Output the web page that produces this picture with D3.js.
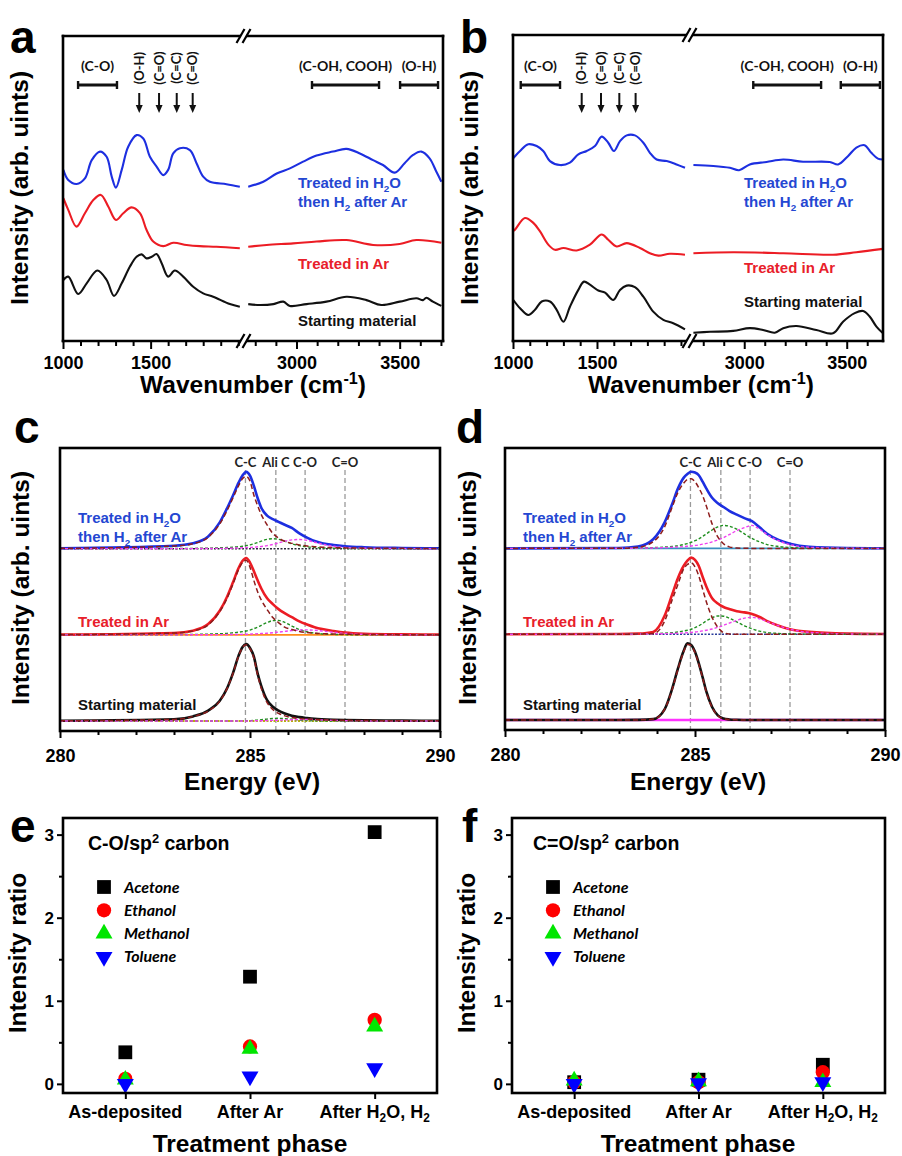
<!DOCTYPE html>
<html>
<head>
<meta charset="utf-8">
<script src="https://cdn.jsdelivr.net/npm/d3@7"></script>
<style>
body { margin: 0; background: #fff; overflow: hidden; }
</style>
</head>
<body>
<div id="chart"></div>
<script>
// ---------- FTIR spectra (panels a, b): [wavenumber, intensity] ----------
const ftirABlue = [[1002,5.61],[1030,5.28],[1078,5.15],[1125,5.33],[1164,5.93],[1211,6.21],[1249,6.04],[1278,5.39],[1302,5.03],[1335,5.61],[1372,6.37],[1420,6.75],[1458,6.64],[1496,6.04],[1534,5.72],[1572,5.44],[1600,5.61],[1629,6.15],[1667,6.32],[1724,6.26],[1762,5.83],[1800,5.39],[1838,5.22],[1933,5.14],[2009,5.06],
  [2766,5.06],[2839,5.22],[2904,5.49],[2968,5.66],[3032,5.88],[3097,6.08],[3177,6.21],[3242,6.30],[3307,6.15],[3371,5.93],[3419,5.77],[3476,5.52],[3524,5.83],[3565,6.10],[3605,6.21],[3645,5.99],[3678,5.55],[3702,5.22]];
const ftirARed = [[1002,4.68],[1030,4.30],[1077,3.75],[1125,4.19],[1173,4.62],[1216,4.79],[1259,4.40],[1302,3.97],[1344,4.19],[1391,4.38],[1439,4.19],[1477,3.64],[1515,3.26],[1572,3.11],[1629,3.22],[1705,3.15],[1781,3.11],[1876,3.09],[2009,3.04],
  [2766,3.09],[2855,3.15],[2984,3.20],[3097,3.26],[3242,3.31],[3371,3.15],[3500,3.18],[3581,3.31],[3702,3.22]];
const ftirABlack = [[1002,2.0],[1030,2.11],[1087,1.54],[1135,1.89],[1196,2.31],[1249,2.0],[1291,1.48],[1335,1.89],[1382,2.44],[1420,2.76],[1449,2.84],[1477,2.71],[1506,2.76],[1534,2.85],[1563,2.55],[1600,2.11],[1638,2.31],[1686,2.11],[1743,1.78],[1800,1.56],[1857,1.45],[1952,1.21],[2009,1.12],
  [2766,1.21],[2823,1.18],[2888,1.21],[2936,1.29],[2968,1.15],[3049,1.21],[3145,1.29],[3242,1.45],[3339,1.34],[3411,1.18],[3500,1.29],[3581,1.40],[3613,1.34],[3629,1.42],[3661,1.29],[3702,1.15]];

const ftirBBlue = [[1003,5.98],[1012,6.04],[1042,6.21],[1091,6.43],[1141,6.37],[1180,6.21],[1220,5.88],[1280,5.75],[1339,5.83],[1389,6.10],[1439,6.21],[1488,6.37],[1528,6.68],[1567,6.48],[1601,6.21],[1637,6.53],[1677,6.72],[1726,6.72],[1776,6.48],[1815,6.15],[1855,5.93],[1915,5.88],[1974,5.77],[2024,5.66],
  [2752,5.75],[2849,5.72],[2930,5.66],[2975,5.58],[3027,5.77],[3109,5.85],[3190,5.93],[3287,5.86],[3417,5.85],[3458,5.77],[3506,6.04],[3547,6.32],[3587,6.40],[3620,6.15],[3652,5.96],[3677,5.93]];
const ftirBRed = [[1002,3.6],[1012,3.64],[1071,4.02],[1121,3.86],[1161,3.58],[1210,3.15],[1250,2.98],[1300,3.04],[1379,2.96],[1458,3.15],[1528,3.48],[1567,3.31],[1617,3.09],[1677,3.20],[1756,3.04],[1815,2.87],[1865,2.79],[1934,2.85],[2024,2.82],
  [2752,2.87],[2946,2.90],[3190,2.87],[3433,2.82],[3547,2.90],[3677,3.01]];
const ftirBBlack = [[1002,1.34],[1042,1.07],[1091,0.85],[1131,1.02],[1171,1.29],[1220,1.29],[1260,1.02],[1300,0.63],[1339,1.12],[1389,1.67],[1423,1.94],[1458,1.84],[1508,1.65],[1548,1.58],[1597,1.34],[1637,1.67],[1677,1.81],[1726,1.76],[1776,1.45],[1835,0.96],[1895,0.69],[1954,0.58],[2024,0.38],
  [2752,0.27],[2833,0.30],[2946,0.33],[3027,0.42],[3092,0.36],[3149,0.27],[3190,0.42],[3255,0.49],[3352,0.36],[3433,0.25],[3482,0.63],[3539,0.91],[3580,0.98],[3612,0.80],[3645,0.47],[3677,0.25]];

const ftirMajorTicks = [1000, 1500, 3000, 3500];
const ftirArrowLabels = ["(O-H)", "(C=O)", "(C=C)", "(C=O)"];
const ftirAArrows = [1435, 1548, 1649, 1740];
const ftirBArrows = [1409, 1524, 1633, 1730];
const ftirABands = [[1086, 1308, "(C-O)"], [3075, 3400, "(C-OH, COOH)"], [3502, 3686, "(O-H)"]];
const ftirBBands = [[1046, 1280, "(C-O)"], [3044, 3375, "(C-OH, COOH)"], [3471, 3662, "(O-H)"]];
const sampleLabels = ["Treated in H_2O", "then H_2 after Ar", "Treated in Ar", "Starting material"];

// ---------- XPS C1s (panels c, d), intensity on a shared energy grid ----------
const xpsEnergy = [280, 283, 283.5, 283.9, 284.2, 284.4, 284.55, 284.7, 284.8, 284.9, 285.0, 285.1, 285.2, 285.3, 285.45, 285.6, 285.75, 285.9, 286.1, 286.3, 286.5, 286.7, 286.9, 287.2, 287.5, 288, 289, 290];
const xpsPeakPos = [284.88, 285.68, 286.45, 287.5];
const xpsPeakNames = ["C-C", "Ali C", "C-O", "C=O"];

const cBlueTotal = [0.005,0.038,0.07,0.16,0.34,0.53,0.69,0.86,0.95,1.0,0.95,0.82,0.66,0.53,0.43,0.385,0.35,0.315,0.27,0.2,0.145,0.1,0.072,0.048,0.033,0.02,0.01,0.006];
const cBlueCC = [0.005,0.036,0.066,0.15,0.32,0.5,0.66,0.82,0.91,0.94,0.88,0.70,0.56,0.44,0.31,0.2,0.14,0.1,0.07,0.05,0.035,0.027,0.02,0.015,0.011,0.008,0.005,0.003];
const cBlueAli = [0,0.003,0.005,0.008,0.012,0.016,0.02,0.026,0.032,0.04,0.05,0.065,0.08,0.1,0.122,0.13,0.122,0.1,0.065,0.04,0.025,0.016,0.01,0.006,0.004,0.002,0,0];
const cBlueCO = [0,0.001,0.002,0.003,0.005,0.006,0.008,0.01,0.012,0.014,0.017,0.02,0.025,0.03,0.04,0.055,0.075,0.095,0.115,0.12,0.11,0.085,0.06,0.032,0.016,0.006,0.002,0];
const cRedTotal = [0.003,0.025,0.055,0.14,0.31,0.5,0.68,0.87,0.96,1.0,0.94,0.83,0.71,0.6,0.475,0.4,0.335,0.285,0.23,0.175,0.135,0.1,0.075,0.05,0.03,0.015,0.006,0.003];
const cRedCC = [0.003,0.024,0.052,0.13,0.3,0.48,0.66,0.85,0.94,0.97,0.88,0.71,0.56,0.45,0.33,0.225,0.16,0.105,0.07,0.045,0.03,0.022,0.016,0.011,0.008,0.005,0.003,0.002];
const cRedAli = [0,0.003,0.006,0.01,0.015,0.02,0.027,0.035,0.042,0.05,0.062,0.08,0.1,0.125,0.16,0.185,0.188,0.165,0.115,0.07,0.04,0.022,0.012,0.006,0.003,0.001,0,0];
const cRedCO = [0,0,0.001,0.002,0.003,0.004,0.005,0.006,0.007,0.008,0.01,0.012,0.014,0.017,0.022,0.028,0.036,0.045,0.056,0.063,0.065,0.06,0.05,0.033,0.02,0.007,0.001,0];
const cBlackTotal = [0.003,0.022,0.06,0.135,0.26,0.43,0.62,0.85,0.96,1.0,0.95,0.84,0.62,0.45,0.27,0.185,0.135,0.1,0.068,0.05,0.038,0.028,0.022,0.016,0.012,0.008,0.005,0.003];
const cBlackCC = [0.003,0.021,0.058,0.13,0.255,0.425,0.615,0.845,0.955,0.99,0.94,0.82,0.6,0.42,0.24,0.15,0.1,0.07,0.045,0.032,0.025,0.02,0.016,0.012,0.009,0.006,0.004,0.002];
const cBlackAli = [0,0,0,0,0,0,0,0.001,0.002,0.003,0.005,0.008,0.012,0.017,0.025,0.033,0.035,0.031,0.022,0.013,0.007,0.003,0.001,0,0,0,0,0];
const cBlackCO = [0,0,0,0,0,0,0,0,0,0,0.001,0.002,0.003,0.004,0.006,0.008,0.011,0.014,0.017,0.019,0.02,0.018,0.014,0.008,0.004,0.001,0,0];

const dBlueTotal = [0,0.005,0.025,0.12,0.34,0.58,0.78,0.92,0.97,1.0,0.99,0.955,0.87,0.78,0.66,0.59,0.54,0.49,0.44,0.395,0.355,0.275,0.19,0.11,0.062,0.022,0.005,0.002];
const dBlueCC = [0,0.002,0.015,0.087,0.28,0.54,0.73,0.85,0.9,0.91,0.87,0.79,0.69,0.55,0.32,0.15,0.06,0.02,0.005,0.001,0,0,0,0,0,0,0,0];
const dBlueAli = [0,0.002,0.005,0.01,0.017,0.025,0.035,0.05,0.063,0.08,0.1,0.125,0.155,0.19,0.24,0.28,0.30,0.29,0.25,0.19,0.13,0.085,0.05,0.025,0.012,0.004,0.001,0];
const dBlueCO = [0,0.001,0.003,0.006,0.01,0.014,0.018,0.023,0.027,0.032,0.038,0.045,0.055,0.065,0.085,0.11,0.14,0.18,0.23,0.27,0.30,0.25,0.18,0.1,0.05,0.015,0.002,0];
const dRedTotal = [0,0.002,0.008,0.03,0.24,0.52,0.73,0.89,0.96,1.0,0.97,0.89,0.75,0.62,0.47,0.4,0.355,0.33,0.3,0.285,0.265,0.225,0.17,0.11,0.065,0.03,0.008,0.003];
const dRedCC = [0,0,0.002,0.008,0.17,0.45,0.65,0.85,0.91,0.93,0.88,0.76,0.59,0.42,0.22,0.09,0.02,0.003,0,0,0,0,0,0,0,0,0,0];
const dRedAli = [0,0.001,0.003,0.007,0.013,0.02,0.03,0.042,0.052,0.065,0.085,0.11,0.14,0.175,0.215,0.238,0.235,0.21,0.16,0.11,0.07,0.04,0.022,0.01,0.004,0.001,0,0];
const dRedCO = [0,0.001,0.002,0.004,0.007,0.01,0.013,0.017,0.02,0.024,0.029,0.035,0.043,0.052,0.068,0.09,0.115,0.145,0.18,0.21,0.22,0.2,0.165,0.11,0.065,0.025,0.004,0];
const dBlackTotal = [0,0,0.002,0.012,0.14,0.41,0.67,0.9,1.0,0.98,0.89,0.74,0.56,0.37,0.17,0.06,0.02,0.008,0.003,0.001,0,0,0,0,0,0,0,0];
const dBlackCC = [0,0,0.002,0.012,0.14,0.4,0.66,0.89,0.985,0.97,0.88,0.73,0.55,0.36,0.165,0.055,0.018,0.006,0.002,0,0,0,0,0,0,0,0,0];

// ---------- Intensity ratios (panels e, f) ----------
const phaseLabels = ["As-deposited", "After Ar", "After H_2O, H_2"];
const solventNames = ["Acetone", "Ethanol", "Methanol", "Toluene"];
const coAcetone = [0.38, 1.29, 3.03];
const coEthanol = [0.06, 0.45, 0.77];
const coMethanol = [0.05, 0.42, 0.69];
const coToluene = [0.0, 0.09, 0.19];
const oxoAcetone = [0.02, 0.05, 0.23];
const oxoEthanol = [0.02, 0.02, 0.14];
const oxoMethanol = [0.04, 0.03, 0.02];
const oxoToluene = [0.0, 0.01, 0.02];
const ratioTicks = [0, 1, 2, 3];
const ratioMinorTicks = [0.5, 1.5, 2.5];

const ARIAL = '"Liberation Sans", Arial, Helvetica, sans-serif';
const HUMAN = 'Lato, "Open Sans", sans-serif';
const C_BLUE = "#1d2fe0", C_RED = "#ec1c24", C_BLACK = "#111";
const T_BLUE = "#2447d2", T_RED = "#e8202a";

const svg = d3.select("#chart").append("svg")
  .attr("width", 902).attr("height", 1156)
  .style("background", "#fff");

function parseRich(str) {
  return str.split(/(_\d|\^\{[^}]*\})/).filter(s => s.length).map(s => {
    if (s[0] === "_") return [s.slice(1), "sub"];
    if (s[0] === "^") return [s.slice(2, -1), "sup"];
    return [s, null];
  });
}

function richText(sel, x, y, str, size, opts = {}) {
  const t = sel.append("text")
    .attr("x", x).attr("y", y)
    .attr("text-anchor", opts.anchor || "start")
    .style("font-family", opts.family || ARIAL)
    .style("font-weight", "bold")
    .style("font-style", opts.italic ? "italic" : "normal")
    .style("font-size", size + "px")
    .attr("fill", opts.color || "#000");
  if (opts.transform) t.attr("transform", opts.transform);
  if (opts.dy) t.attr("dy", opts.dy);
  let shift = 0;
  parseRich(str).forEach(([s, kind]) => {
    const target = kind === "sub" ? size * 0.24 : kind === "sup" ? -size * 0.38 : 0;
    t.append("tspan").attr("dy", target - shift).style("font-size", (kind ? size * 0.66 : size) + "px").text(s);
    shift = target;
  });
  return t;
}

function styleAxis(sel, size) {
  sel.select(".domain").remove();
  sel.selectAll(".tick line").attr("stroke", "#000").attr("stroke-width", 2);
  sel.selectAll(".tick text").attr("fill", "#000")
    .style("font-family", ARIAL).style("font-weight", "bold").style("font-size", size + "px");
}

function panelLetter(letter, x, y) {
  svg.append("text").attr("x", x).attr("y", y).text(letter)
    .style("font-family", ARIAL).style("font-weight", "bold").style("font-size", "46px");
}

function yTitle(str, x, y) {
  richText(svg, 0, 0, str, 24.5, { anchor: "middle", transform: `translate(${x},${y}) rotate(-90)`, dy: "0.35em" });
}

function frameBox(g, p) {
  g.append("rect").attr("x", p.left).attr("y", p.top)
    .attr("width", p.right - p.left).attr("height", p.bottom - p.top)
    .attr("fill", "none").attr("stroke", "#000").attr("stroke-width", 2.6);
}

// ---------- panels a, b ----------
function drawFtir(p) {
  const g = svg.append("g");
  const xl = d3.scaleLinear().domain(p.leftDomain).range([p.left, p.brk - 3.5]);
  const xr = d3.scaleLinear().domain(p.rightDomain).range([p.brk + 3.5, p.right]);
  const y = d3.scaleLinear().domain([0, 10]).range([p.bottom, p.top]);
  const xOf = w => (w < 2400 ? xl(w) : xr(w));
  const line = d3.line().x(d => xOf(d[0])).y(d => y(d[1])).curve(d3.curveCatmullRom.alpha(0.5));

  p.series.forEach(s => {
    [s.data.filter(d => d[0] < 2400), s.data.filter(d => d[0] >= 2400)].forEach(seg => {
      g.append("path").datum(seg).attr("d", line)
        .attr("fill", "none").attr("stroke", s.color).attr("stroke-width", 2.1).attr("stroke-linejoin", "round");
    });
  });

  const ticksL = d3.range(1000, 2001, 100);
  const ticksR = d3.range(2800, 3701, 100).filter(t => t <= p.rightDomain[1]);
  [[xl, ticksL], [xr, ticksR]].forEach(([sc, ticks]) => {
    const minor = g.append("g").attr("transform", `translate(0,${p.bottom})`)
      .call(d3.axisBottom(sc).tickValues(ticks.filter(t => !ftirMajorTicks.includes(t))).tickSize(5).tickFormat(""));
    styleAxis(minor, 18);
    const major = g.append("g").attr("transform", `translate(0,${p.bottom})`)
      .call(d3.axisBottom(sc).tickValues(ticks.filter(t => ftirMajorTicks.includes(t))).tickSize(8).tickPadding(7).tickFormat(d3.format("d")));
    styleAxis(major, 18);
  });

  // broken frame
  const fr = g.append("g").attr("stroke", "#000").attr("stroke-width", 2.6).attr("stroke-linecap", "square");
  fr.append("line").attr("x1", p.left).attr("y1", p.top).attr("x2", p.left).attr("y2", p.bottom);
  fr.append("line").attr("x1", p.right).attr("y1", p.top).attr("x2", p.right).attr("y2", p.bottom);
  [p.top, p.bottom].forEach(yy => {
    fr.append("line").attr("x1", p.left).attr("y1", yy).attr("x2", p.brk - 4).attr("y2", yy);
    fr.append("line").attr("x1", p.brk + 4).attr("y1", yy).attr("x2", p.right).attr("y2", yy);
    [-3, 3].forEach(dx => {
      fr.append("line").attr("stroke-width", 2.2).attr("stroke-linecap", "butt")
        .attr("x1", p.brk + dx - 4).attr("y1", yy + 7).attr("x2", p.brk + dx + 4).attr("y2", yy - 7);
    });
  });

  // band brackets
  p.bands.forEach(([w1, w2, label]) => {
    const x1 = xOf(w1), x2 = xOf(w2);
    g.append("line").attr("x1", x1).attr("x2", x2).attr("y1", 85).attr("y2", 85).attr("stroke", "#111").attr("stroke-width", 3);
    [x1, x2].forEach(xx => g.append("line").attr("x1", xx).attr("x2", xx).attr("y1", 81).attr("y2", 89).attr("stroke", "#111").attr("stroke-width", 2.4));
    g.append("text").attr("x", (x1 + x2) / 2).attr("y", 71).attr("text-anchor", "middle").text(label)
      .style("font-family", HUMAN).style("font-weight", "bold").style("font-size", "14px").attr("fill", "#111");
  });

  // arrows with rotated labels
  p.arrows.forEach((w, i) => {
    const xx = xOf(w);
    g.append("line").attr("x1", xx).attr("x2", xx).attr("y1", 93).attr("y2", 106).attr("stroke", "#111").attr("stroke-width", 2);
    g.append("path").attr("d", `M${xx - 3.5},105 L${xx + 3.5},105 L${xx},113 Z`).attr("fill", "#111");
    g.append("text").attr("transform", `translate(${xx},68) rotate(-90)`).attr("dy", "0.36em")
      .attr("text-anchor", "middle").text(ftirArrowLabels[i])
      .style("font-family", HUMAN).style("font-weight", "bold").style("font-size", "13px").attr("fill", "#111");
  });

  const colors = [T_BLUE, T_BLUE, T_RED, "#111"];
  sampleLabels.forEach((s, i) => richText(g, p.labelX, p.labelY[i], s, 15, { color: colors[i] }));

  richText(svg, p.xTitleX, 393, "Wavenumber (cm^{-1})", 24.5, { anchor: "middle" });
  yTitle("Intensity (arb. uints)", p.yTitleX, 188);
  panelLetter(p.letter, p.letterX, 53);
}

// ---------- panels c, d ----------
function drawXps(p) {
  const g = svg.append("g");
  const x = d3.scaleLinear().domain([280, 290]).range([p.left, p.right]);
  const y = d3.scaleLinear().domain([0, 3.68]).range([p.bottom, p.top]);

  xpsPeakPos.forEach((e, i) => {
    g.append("line").attr("x1", x(e)).attr("x2", x(e)).attr("y1", 470).attr("y2", p.bottom)
      .attr("stroke", "#9a9a9a").attr("stroke-width", 1.3).attr("stroke-dasharray", "5,3");
    g.append("text").attr("x", x(e)).attr("y", 467).attr("text-anchor", "middle").text(xpsPeakNames[i])
      .style("font-family", HUMAN).style("font-weight", "bold").style("font-size", "13px").attr("fill", "#222");
  });

  p.rows.forEach(row => {
    const line = d3.line().x((d, i) => x(xpsEnergy[i])).y(d => y(d + row.offset)).curve(d3.curveMonotoneX);
    g.append("line").attr("x1", x(280)).attr("x2", x(290)).attr("y1", y(row.offset)).attr("y2", y(row.offset))
      .attr("stroke", row.base).attr("stroke-width", row.baseWidth || 1.6).attr("stroke-dasharray", row.baseDash || null);
    g.append("path").datum(row.total).attr("d", line).attr("fill", "none")
      .attr("stroke", row.color).attr("stroke-width", 2.6);
    if (row.ali) g.append("path").datum(row.ali).attr("d", line).attr("fill", "none")
      .attr("stroke", "#1f8f1f").attr("stroke-width", 1.4).attr("stroke-dasharray", "3,2");
    if (row.co) g.append("path").datum(row.co).attr("d", line).attr("fill", "none")
      .attr("stroke", "#f040f0").attr("stroke-width", 1.4).attr("stroke-dasharray", "3,2");
    g.append("path").datum(row.cc).attr("d", line).attr("fill", "none")
      .attr("stroke", "#8e1c1c").attr("stroke-width", 1.5).attr("stroke-dasharray", "5,3");
  });

  const minor = g.append("g").attr("transform", `translate(0,${p.bottom})`)
    .call(d3.axisBottom(x).tickValues(d3.range(281, 290, 1).filter(t => t !== 285)).tickSize(4).tickFormat(""));
  styleAxis(minor, 18);
  const major = g.append("g").attr("transform", `translate(0,${p.bottom})`)
    .call(d3.axisBottom(x).tickValues([280, 285, 290]).tickSize(7).tickPadding(11).tickFormat(d3.format("d")));
  styleAxis(major, 18);
  frameBox(g, p);

  const colors = [T_BLUE, T_BLUE, T_RED, "#111"];
  const ys = [523, 542, 627, 710];
  sampleLabels.forEach((s, i) => richText(g, p.labelX, ys[i], s, 15, { color: colors[i] }));

  richText(svg, p.xTitleX, 790, "Energy (eV)", 24.5, { anchor: "middle" });
  yTitle("Intensity (arb. uints)", p.yTitleX, 588);
  panelLetter(p.letter, p.letterX, 443);
}

// ---------- panels e, f ----------
function drawRatio(p) {
  const g = svg.append("g");
  const x = d3.scalePoint().domain(phaseLabels).range([p.left, p.right]).padding(0.5);
  const y = d3.scaleLinear().domain([-0.11, 3.2]).range([p.bottom, p.top]);

  const yMinor = g.append("g").attr("transform", `translate(${p.left},0)`)
    .call(d3.axisLeft(y).tickValues(ratioMinorTicks).tickSize(4).tickFormat(""));
  styleAxis(yMinor, 17);
  const yMajor = g.append("g").attr("transform", `translate(${p.left},0)`)
    .call(d3.axisLeft(y).tickValues(ratioTicks).tickSize(6).tickPadding(3).tickFormat(d3.format("d")));
  styleAxis(yMajor, 17);
  const xAx = g.append("g").attr("transform", `translate(0,${p.bottom})`)
    .call(d3.axisBottom(x).tickSize(6).tickFormat(""));
  styleAxis(xAx, 17);
  phaseLabels.forEach(ph => richText(g, x(ph), 1118, ph, 18, { anchor: "middle" }));

  const symbols = [d3.symbolSquare, d3.symbolCircle, d3.symbolTriangle, d3.symbolTriangle];
  const sizes = [190, 160, 125, 125];
  const fills = ["#000", "#ff0000", "#00e600", "#0000ff"];
  const rot = [0, 0, 0, 180];

  p.series.forEach((vals, k) => {
    const sym = d3.symbol().type(symbols[k]).size(sizes[k]);
    g.selectAll(null).data(vals).join("path")
      .attr("d", sym)
      .attr("fill", fills[k])
      .attr("transform", (d, i) => `translate(${x(phaseLabels[i])},${y(d)}) rotate(${rot[k]})`);
    const ly = 887 + k * 23.3;
    g.append("path").attr("d", sym).attr("fill", fills[k])
      .attr("transform", `translate(${p.left + 41},${ly}) rotate(${rot[k]})`);
    g.append("text").attr("x", p.left + 61).attr("y", ly + 5.5).text(solventNames[k])
      .style("font-family", HUMAN).style("font-weight", "bold").style("font-style", "italic").style("font-size", "16px");
  });

  frameBox(g, p);
  richText(g, p.left + p.titleDx, 850, p.title, 19.5);
  richText(svg, p.xTitleX, 1152, "Treatment phase", 24.5, { anchor: "middle" });
  yTitle("Intensity ratio", p.yTitleX, 953);
  panelLetter(p.letter, p.letterX, 842);
}

drawFtir({
  letter: "a", letterX: 10, left: 63, right: 443, top: 36, bottom: 341, brk: 243.5,
  leftDomain: [1000, 2010], rightDomain: [2760, 3710],
  series: [{ data: ftirABlue, color: C_BLUE }, { data: ftirARed, color: C_RED }, { data: ftirABlack, color: C_BLACK }],
  arrows: ftirAArrows, bands: ftirABands,
  labelX: 298, labelY: [188, 207, 269, 326], yTitleX: 28, xTitleX: 253
});
drawFtir({
  letter: "b", letterX: 460, left: 513, right: 883, top: 35, bottom: 341, brk: 689.5,
  leftDomain: [1000, 2030], rightDomain: [2750, 3677],
  series: [{ data: ftirBBlue, color: C_BLUE }, { data: ftirBRed, color: C_RED }, { data: ftirBBlack, color: C_BLACK }],
  arrows: ftirBArrows, bands: ftirBBands,
  labelX: 744, labelY: [188, 207, 273, 307], yTitleX: 478, xTitleX: 701
});

drawXps({
  letter: "c", letterX: 14, left: 60, right: 440, top: 448, bottom: 731, labelX: 78, yTitleX: 29, xTitleX: 252,
  rows: [
    { offset: 2.37, color: C_BLUE, base: "#2a2a3a", baseDash: "2,1.5", total: cBlueTotal, cc: cBlueCC, ali: cBlueAli, co: cBlueCO },
    { offset: 1.25, color: C_RED, base: "#ff8c1a", total: cRedTotal, cc: cRedCC, ali: cRedAli, co: cRedCO },
    { offset: 0.13, color: C_BLACK, base: "#b5ad10", baseDash: "2,1.5", baseWidth: 2, total: cBlackTotal, cc: cBlackCC, ali: cBlackAli, co: cBlackCO }
  ]
});
drawXps({
  letter: "d", letterX: 456, left: 505, right: 885, top: 448, bottom: 730, labelX: 523, yTitleX: 476, xTitleX: 698,
  rows: [
    { offset: 2.37, color: C_BLUE, base: "#3a8fc0", total: dBlueTotal, cc: dBlueCC, ali: dBlueAli, co: dBlueCO },
    { offset: 1.25, color: C_RED, base: "#2a3a9a", baseDash: "2,1.5", total: dRedTotal, cc: dRedCC, ali: dRedAli, co: dRedCO },
    { offset: 0.13, color: C_BLACK, base: "#ff33ff", baseWidth: 2.6, total: dBlackTotal, cc: dBlackCC }
  ]
});

drawRatio({
  letter: "e", letterX: 10, left: 63, right: 437, top: 818, bottom: 1093, titleDx: 25,
  title: "C-O/sp^{2} carbon", yTitleX: 26, xTitleX: 250,
  series: [coAcetone, coEthanol, coMethanol, coToluene]
});
drawRatio({
  letter: "f", letterX: 462, left: 512, right: 885, top: 818, bottom: 1093, titleDx: 21,
  title: "C=O/sp^{2} carbon", yTitleX: 475, xTitleX: 698,
  series: [oxoAcetone, oxoEthanol, oxoMethanol, oxoToluene]
});
</script>
</body>
</html>
